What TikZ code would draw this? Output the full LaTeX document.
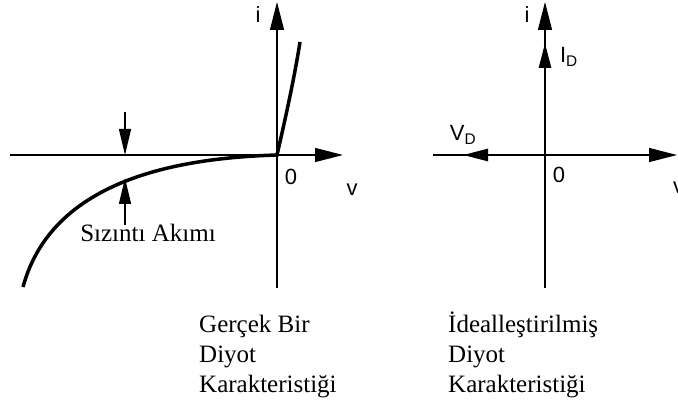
\documentclass[tikz,border=0pt]{standalone}
\usepackage{fontspec}
\setmainfont{Liberation Serif}
\newfontfamily\axisfont{Liberation Sans}
\usetikzlibrary{arrows.meta}
\begin{document}
\begin{tikzpicture}[x=10pt, y=10pt,
    axis/.style={line width=1.2pt, -{Triangle[length=28pt,width=14pt]}},
    pointer/.style={line width=1.2pt, -{Triangle[length=26pt,width=12pt]}},
    ideal/.style={line width=2.6pt, -{Triangle[length=25pt,width=12pt]}},
    axislabel/.style={font=\axisfont\fontsize{22}{26}\selectfont, inner sep=0pt},
    caption/.style={font=\fontsize{25}{30}\selectfont, align=left, anchor=base west, inner sep=0pt}]
    \useasboundingbox (0,0) rectangle (67.8,40.5);

    % gercek diyot
    \begin{scope}[shift={(27.7,25)}]
        \draw[axis] (-26.7,0) -- (6.6,0);
        \draw[axis] (0,-13.3) -- (0,15.3);
        \node[axislabel] (iL) at (-1.9,14) {i};
        \node[axislabel] (zeroL) at (1.4,-2.2) {0};
        \node[axislabel] (vL) at (7.5,-3.5) {v};

        % egri
        \draw[line width=3.5pt] (2.3,11.3) .. controls (1.7,7.5) and (0.8,3.5) .. (0,0)
            .. controls (-10,-0.3) and (-22.5,-2.5) .. (-25.4,-13.2);

        % sizinti akimi
        \draw[pointer] (-15.2,4.3) -- (-15.2,0);
        \draw[pointer] (-15.2,-7) -- (-15.2,-2.3);
        \node[font=\fontsize{25}{30}\selectfont] (leak) at (-12.9,-7.8) {Sızıntı Akımı};
    \end{scope}

    % ideal diyot
    \begin{scope}[shift={(54.5,25)}]
        \draw[axis] (-11.2,0) -- (13.2,0);
        \draw[axis] (0,-13.3) -- (0,15.3);
        \draw[ideal] (0,0) -- (0,11.2);
        \draw[ideal] (0,0) -- (-8.2,0);
        \node[axislabel] (iR) at (-1.8,14) {i};
        \node[axislabel] (idR) at (2.4,9.8) {I\textsubscript{D}};
        \node[axislabel] (vdR) at (-8.2,2.0) {V\textsubscript{D}};
        \node[axislabel] (zeroR) at (1.4,-2.0) {0};
        \node[axislabel, anchor=west] (vR) at (12.8,-3.3) {v};
    \end{scope}

    % basliklar
    \node[caption] (capL) at (19.9,1.3) {Gerçek Bir\\Diyot\\Karakteristiği};
    \node[caption] (capR) at (44.8,1.3) {İdealleştirilmiş\\Diyot\\Karakteristiği};
\end{tikzpicture}
\end{document}
